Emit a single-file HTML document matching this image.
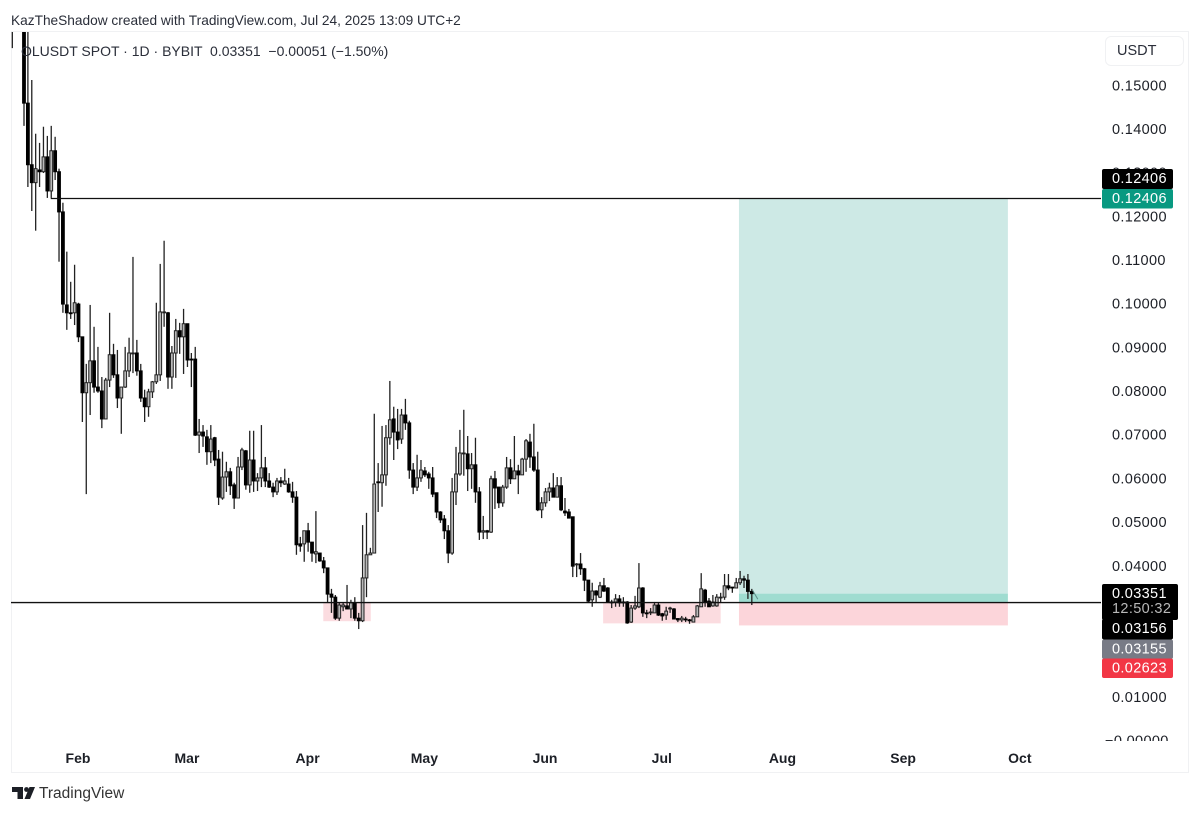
<!DOCTYPE html>
<html lang="en">
<head>
<meta charset="utf-8">
<title>OLUSDT chart</title>
<style>
html,body{margin:0;padding:0;background:#fff;}
body{width:1200px;height:814px;overflow:hidden;position:relative;font-family:"Liberation Sans",sans-serif;color:#1c1f26;}
.abs{position:absolute;white-space:pre;}
#chart{position:absolute;left:0;top:0;}
#frame{position:absolute;left:11px;top:31px;width:1178px;height:742px;border:1px solid #f0f1f3;box-sizing:border-box;}
#usdt{position:absolute;left:1105px;top:36px;width:79px;height:30px;border:1px solid #f0f1f3;border-radius:6px;box-sizing:border-box;font-size:14.5px;line-height:28px;padding-left:11px;color:#2a2e39;}
</style>
</head>
<body>
<div class="abs" style="left:11px;top:12px;font-size:13.7px;line-height:17px;color:#2a2e39;">KazTheShadow created with TradingView.com, Jul 24, 2025 13:09 UTC+2</div>
<div id="frame"></div>
<svg id="chart" width="1200" height="814" viewBox="0 0 1200 814" xmlns="http://www.w3.org/2000/svg">
  <defs>
    <clipPath id="pane-clip"><rect x="11" y="32" width="1088" height="708"></rect></clipPath>
    <clipPath id="axis-clip"><rect x="1099" y="32" width="90" height="709"></rect></clipPath>
  </defs>
  <g id="zones" clip-path="url(#pane-clip)"></g>
  <g id="candles" clip-path="url(#pane-clip)"></g>
  <g id="hlines"></g>
  <g id="y-axis" clip-path="url(#axis-clip)" font-family="'Liberation Sans',sans-serif" font-size="14.5" letter-spacing="0.35" fill="#1c1f26"></g>
  <g id="x-axis" font-family="'Liberation Sans',sans-serif" font-size="14" font-weight="bold" fill="#1c1f26"></g>
  <g id="tags" font-family="'Liberation Sans',sans-serif" font-size="14.5" letter-spacing="0.35"></g>
  <g fill="#1c1f26">
    <path d="M12 787h11v12h-5.500v-7H12z"></path>
    <circle cx="26.500" cy="789.500" r="2.400"></circle>
    <path d="M29.500 787h5.500l-5 12h-5.500z"></path>
  </g>
</svg>
<div class="abs" style="left:21px;top:43px;font-size:14px;line-height:17px;color:#2a2e39;">OLUSDT SPOT · 1D · BYBIT  0.03351  −0.00051 (−1.50%)</div>
<div id="usdt">USDT</div>
<div class="abs" style="left:39px;top:784px;font-size:15.5px;line-height:19px;color:#333;">TradingView</div>
<script>
// Candle values in thousandths of USDT, oldest first (Jan 15 onward, 1D)
const opens = [175,190,180,
175,145.8,131.7,127.6,130.5,130.1,133.5,125.7,134.9,130.1,
120.9,99.6,97.8,97.8,99.8,92.3,79.5,81.8,86.8,80.8,
79.9,73.5,82.4,88.2,83.6,78.3,80.8,84.5,88.4,88.6,
84.5,78.3,76.3,79.7,82.0,83.6,97.8,97.8,83.1,88.6,
93.7,92.3,95.3,87.2,87.2,69.8,70.5,69.4,66.0,69.2,
64.3,55.4,60.2,61.4,58.4,55.4,62.5,66.2,58.4,64.1,
59.3,60.0,62.3,59.3,57.9,56.8,59.3,58.6,58.6,56.8,
55.6,44.9,44.9,47.9,45.3,42.6,42.8,41.0,39.4,33.4,
32.7,27.9,30.5,30.7,30.0,31.4,27.9,27.3,37.1,42.4,
42.8,59.1,58.9,60.7,69.2,73.5,70.5,68.9,74.4,72.6,
61.8,57.9,60.0,61.6,60.9,60.0,56.6,52.2,50.6,47.9,
42.8,56.8,60.9,65.5,65.5,62.1,63.0,56.8,47.6,47.9,
47.6,59.8,57.9,54.3,57.9,62.3,59.8,61.6,60.7,64.3,
68.2,64.8,61.8,52.7,54.3,56.8,57.7,55.6,58.2,52.4,
52.2,51.1,40.1,40.3,39.2,36.6,32.1,34.1,32.7,35.3,
34.8,31.6,31.6,32.3,31.6,31.6,27.0,30.2,30.5,34.8,
29.1,29.1,29.1,30.9,28.9,28.6,30.0,30.0,27.8,27.5,
27.7,27.5,27.0,28.2,30.5,34.3,31.8,30.7,30.7,32.6,
32.7,35.3,35.0,34.8,36.0,36.9,36.6,34.02];
const highs = [180,195,195,
180,165,151.1,138.8,136.7,140.4,138.3,140.6,138.1,130.8,
123.0,111.8,104.9,108.8,100.1,92.3,86.1,99.6,94.6,90.0,
83.1,82.9,97.8,90.7,89.3,80.8,90.0,92.1,110.6,91.6,
86.1,80.2,80.4,82.2,100.1,109.0,114.3,98.0,90.2,96.4,
95.5,98.7,95.3,88.6,90.0,73.5,72.1,71.0,72.1,69.4,
66.4,66.0,63.7,62.3,58.9,64.8,66.9,66.4,70.8,70.8,
61.1,72.1,64.8,61.1,58.9,60.0,60.2,62.1,60.0,59.1,
57.0,46.5,47.9,49.7,45.3,52.4,42.8,41.9,39.4,34.6,
33.2,31.4,31.4,35.5,32.1,32.7,29.1,49.2,52.0,44.0,
74.7,63.4,71.9,72.1,82.2,76.3,75.8,75.8,78.1,73.1,
63.4,65.3,64.1,62.5,61.4,62.5,56.6,52.4,51.5,49.2,
60.0,67.1,71.0,75.6,69.6,65.7,69.2,57.9,51.3,48.1,
60.5,61.6,57.9,58.4,64.8,64.3,69.6,63.0,64.6,68.9,
70.1,72.4,66.0,55.6,57.7,58.9,61.1,60.2,60.2,55.4,
52.9,51.1,40.5,42.8,39.4,36.6,36.0,34.3,36.2,37.1,
35.0,32.1,33.4,33.2,32.7,31.8,30.9,33.0,40.5,35.0,
29.8,30.2,31.6,31.4,29.1,30.5,30.5,30.2,27.9,28.4,
28.2,27.7,28.6,30.9,38.2,34.6,32.5,33.2,33.4,33.7,
38.0,38.0,35.0,37.1,38.7,37.6,38.0,34.6];
const lows = [158.4,172,170,
140.6,126.6,121.1,116.6,126.6,129.8,124.1,124.1,128.2,109.5,
97.8,93.9,96.4,95.0,91.1,72.8,56.3,74.4,79.5,79.5,
71.4,73.5,80.8,82.9,76.0,70.1,80.6,83.1,84.0,83.4,
77.4,72.8,74.0,78.3,81.5,82.2,94.6,80.4,80.4,82.9,
88.4,83.8,85.4,80.8,69.6,65.7,67.1,63.0,63.4,62.7,
53.8,55.0,56.8,56.1,52.9,55.4,61.8,57.3,56.6,56.8,
57.0,57.9,57.9,57.7,55.6,56.1,57.9,58.4,56.6,54.3,
42.4,43.1,40.8,43.1,40.8,40.5,40.8,38.2,31.6,29.1,
27.5,27.3,29.5,30.0,27.9,27.3,25.4,27.0,32.7,42.4,
42.8,52.2,53.4,58.2,67.6,64.1,66.6,67.8,71.0,59.8,
56.3,57.0,59.1,60.2,57.5,55.6,50.8,49.7,46.0,40.5,
42.4,53.8,60.5,60.5,57.0,57.5,54.3,45.8,46.0,46.0,
47.4,52.9,53.1,53.4,57.5,58.6,59.8,56.3,60.7,61.4,
62.3,61.4,52.4,50.8,53.4,54.7,55.6,55.6,52.4,51.3,
50.8,37.3,37.3,37.8,34.1,31.6,30.5,31.6,32.5,33.9,
31.6,30.2,30.5,30.5,30.5,26.6,26.8,29.8,30.2,28.2,
27.9,28.6,29.1,28.4,27.3,27.5,29.1,27.7,27.0,27.0,
27.0,26.6,27.0,28.2,30.5,30.5,30.5,30.5,30.5,31.6,
32.1,34.3,33.7,34.8,35.5,34.8,32.3,30.9];
const closes = [165,175,190,
145.8,131.7,127.6,130.8,130.1,133.5,125.7,134.9,130.1,120.9,
99.8,97.8,97.6,100.1,92.3,79.5,81.8,86.8,80.8,79.9,
73.5,82.4,88.2,83.6,78.3,80.8,84.5,88.6,88.6,84.5,
78.3,76.3,79.7,82.0,83.6,98.0,98.0,83.1,88.6,93.7,
92.3,95.3,87.0,87.0,69.8,70.5,69.6,66.0,68.9,64.1,
55.6,60.2,61.4,58.2,55.4,62.5,66.4,58.4,64.1,59.3,
60.0,62.3,59.3,57.9,56.8,59.3,58.9,59.3,56.8,55.6,
44.7,44.4,47.9,45.3,42.8,43.1,41.0,39.4,33.4,32.7,
27.9,30.9,30.9,30.0,31.4,27.9,27.3,37.1,42.4,42.8,
58.6,58.9,60.7,69.2,73.3,70.5,68.7,74.4,72.6,61.8,
57.9,60.0,61.8,60.7,60.0,56.3,52.2,50.4,47.9,42.8,
56.8,60.9,65.7,65.7,62.1,63.0,56.8,47.6,47.9,47.6,
59.8,57.7,54.3,57.9,62.3,59.8,61.6,60.7,64.3,68.5,
64.8,61.8,52.7,54.3,56.8,57.7,55.6,58.2,52.7,52.0,
50.8,39.8,40.3,39.2,36.6,31.8,34.1,33.2,35.3,34.1,
31.6,31.4,32.3,31.4,31.4,26.8,30.2,30.7,34.8,29.1,
28.9,29.3,30.9,28.6,28.4,29.5,30.2,27.7,27.5,27.9,
27.5,27.3,28.2,30.7,34.6,31.6,30.5,31.6,32.7,32.7,
35.3,34.8,34.8,36.0,36.9,36.6,34.02,33.51];

const priceTicks = [0.15,0.14,0.13,0.12,0.11,0.10,0.09,0.08,0.07,0.06,0.05,0.04,0.03,0.02,0.01,0];
const priceTickLabels = ["0.15000","0.14000","0.13000","0.12000","0.11000","0.10000","0.09000","0.08000","0.07000","0.06000","0.05000","0.04000","0.03000","0.02000","0.01000","−0.00000"];
const monthNames = ["Feb","Mar","Apr","May","Jun","Jul","Aug","Sep","Oct"];
const monthDays = [17,45,76,106,137,167,198,229,259];

const targetPrice = 0.12406;
const entryPrice = 0.03155;
const stopPrice = 0.02623;
const supportPrice = 0.03156;
const lastPrice = 0.03351;
const countdown = "12:50:32";
const supportZoneDays = [[79.9,92.1],[151.8,182]];
const supportZoneLows = [0.0272,0.0267];
const positionDays = [186.7,255.8];
const targetLineStartDay = 10;

const NS = "http://www.w3.org/2000/svg";
function priceToY(p){ return 740 - p * 4368; }
function dayToX(d){ return 12.32 + 3.892 * d; }
function make(tag, attrs, parent, text){
  const el = document.createElementNS(NS, tag);
  for (const k in attrs) el.setAttribute(k, attrs[k]);
  if (text !== undefined) el.textContent = text;
  parent.appendChild(el);
  return el;
}

// zones
const zones = document.getElementById("zones");
supportZoneDays.forEach(function(span, i){
  const yTop = priceToY(supportPrice);
  const r = make("rect", {x: dayToX(span[0]), y: yTop, width: dayToX(span[1]) - dayToX(span[0]), height: priceToY(supportZoneLows[i]) - yTop, fill: "#fbdce0"}, zones);
  
  
});
const posX = dayToX(positionDays[0]);
const posW = dayToX(positionDays[1]) - dayToX(positionDays[0]);
const tpRect = make("rect", {x: posX, y: priceToY(targetPrice), width: posW, height: priceToY(lastPrice) - priceToY(targetPrice), fill: "#cde9e5"}, zones);


const liveRect = make("rect", {x: posX, y: priceToY(lastPrice), width: posW, height: priceToY(entryPrice) - priceToY(lastPrice), fill: "#9fdcd0"}, zones);


const slRect = make("rect", {x: posX, y: priceToY(entryPrice), width: posW, height: priceToY(stopPrice) - priceToY(entryPrice), fill: "#fcd5da"}, zones);



// candles
const candleGroup = document.getElementById("candles");
opens.forEach(function(o, i){
  const c = closes[i];
  const x = dayToX(i);
  const up = c >= o;
  const top = priceToY(Math.max(o, c) / 1000);
  const bottom = priceToY(Math.min(o, c) / 1000);
  const wick = make("line", {x1: x, x2: x, y1: priceToY(highs[i] / 1000), y2: priceToY(lows[i] / 1000), stroke: "#222", "stroke-width": 1.3}, candleGroup);
  
  
  const body = make("rect", {
    x: x - 1.4, y: top, width: 2.8, height: Math.max(bottom - top, 0.8),
    fill: up ? "#b8b8b8" : "#000", stroke: up ? "#222" : "#000", "stroke-width": 1
  }, candleGroup);
  
  
});
const lastX = dayToX(opens.length - 1);
const trail = make("line", {x1: lastX + 1, y1: priceToY(lastPrice) - 3, x2: lastX + 6, y2: priceToY(entryPrice) - 3, stroke: "#5f8f8a", "stroke-width": 1}, candleGroup);



// horizontal lines
const hlines = document.getElementById("hlines");
const tLine = make("line", {x1: dayToX(targetLineStartDay) - 0.500, x2: 1101, y1: priceToY(targetPrice) + 0.400, y2: priceToY(targetPrice) + 0.400, stroke: "#111", "stroke-width": 1.300}, hlines);


const sLine = make("line", {x1: 11, x2: 1101, y1: priceToY(supportPrice) + 0.400, y2: priceToY(supportPrice) + 0.400, stroke: "#111", "stroke-width": 1.300}, hlines);



// y axis
const yAxis = document.getElementById("y-axis");
priceTicks.forEach(function(p, i){
  const t = make("text", {x: i === priceTicks.length - 1 ? 1105 : 1112, y: priceToY(p) + 5.500}, yAxis, priceTickLabels[i]);
  
  
});

// x axis
const xAxis = document.getElementById("x-axis");
monthNames.forEach(function(m, i){
  const t = make("text", {x: dayToX(monthDays[i]) - 0.500, y: 763, "text-anchor": "middle"}, xAxis, m);
  
  
});

// price tags
const tags = document.getElementById("tags");
function tag(name, y, h, w, fill, lines, colors){
  const r = make("rect", {x: 1102, y: y, width: w, height: h, rx: 2, fill: fill}, tags);
  
  
  lines.forEach(function(s, i){
    const t = make("text", {x: 1112, y: y + 14 + i * 15, fill: colors[i]}, tags, s);
    
    
  });
}
tag("target-line-price-tag", 169, 20, 71, "#000", ["0.12406"], ["#fff"]);
tag("position-target-price-tag", 189, 19.500, 71, "#089981", ["0.12406"], ["#fff"]);
tag("last-price-tag", 584, 36, 76, "#000", ["0.03351", countdown], ["#fff", "#b8b8b8"]);
tag("support-line-price-tag", 619, 20.500, 71, "#000", ["0.03156"], ["#fff"]);
tag("entry-price-tag", 639.500, 19.500, 71, "#787b86", ["0.03155"], ["#fff"]);
tag("stop-price-tag", 658.500, 19.500, 71, "#f23645", ["0.02623"], ["#fff"]);
</script>
</body>
</html>
